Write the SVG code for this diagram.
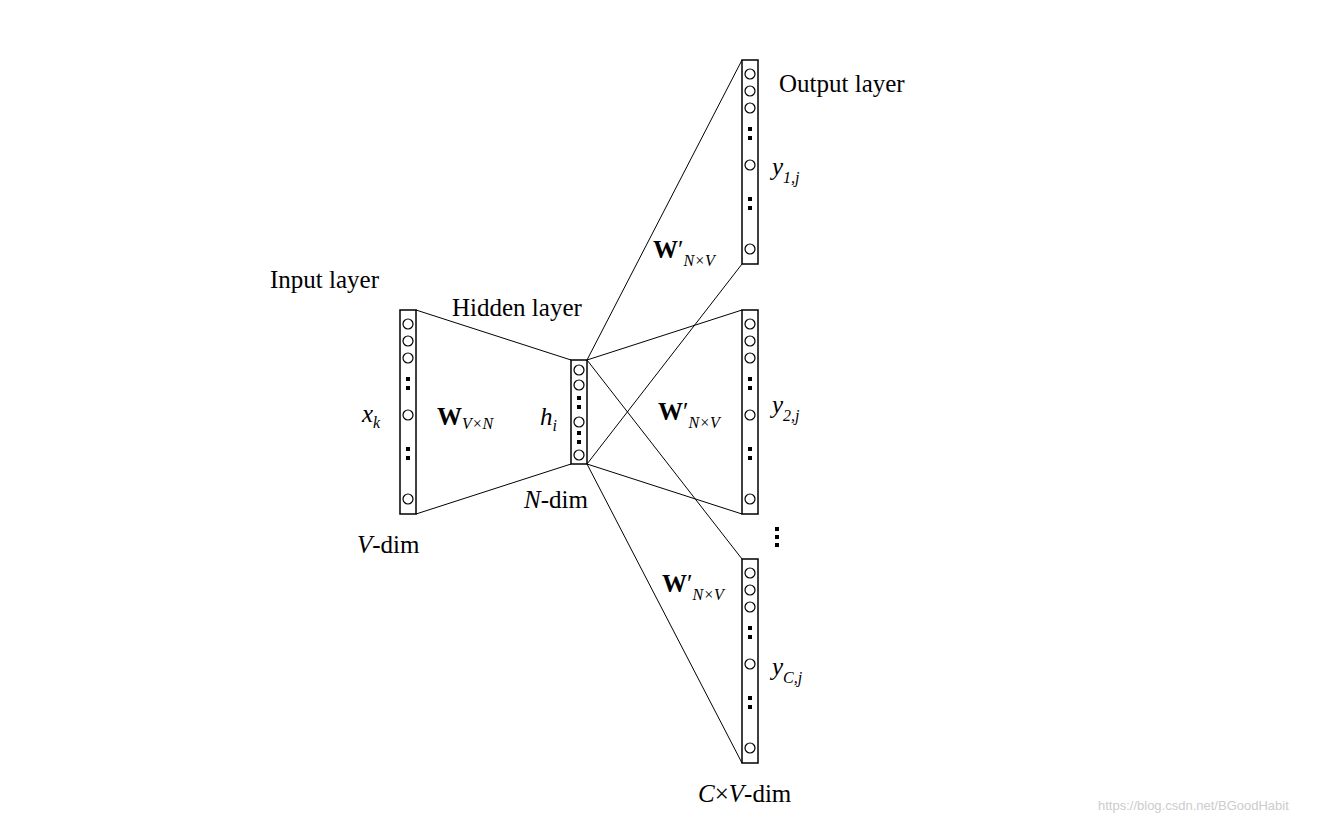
<svg xmlns="http://www.w3.org/2000/svg" width="1340" height="822" viewBox="0 0 1340 822">
<style>
.t{font-family:"Liberation Serif",serif;font-size:25px;fill:#000}
.i{font-style:italic}
.b{font-weight:bold}
.s{font-size:16px}
.col{fill:#fff;stroke:#000;stroke-width:1.5}
.c{fill:#fff;stroke:#000;stroke-width:1.2}
.d{fill:#000}
line{stroke:#000;stroke-width:1}
</style>
<defs>
<g id="big">
<rect class="col" x="0" y="0" width="16" height="204"/>
<circle class="c" cx="8" cy="14" r="5"/><circle class="c" cx="8" cy="31" r="5"/><circle class="c" cx="8" cy="48" r="5"/>
<rect class="d" x="6" y="67" width="4" height="4"/><rect class="d" x="6" y="76" width="4" height="4"/>
<circle class="c" cx="8" cy="105" r="5"/>
<rect class="d" x="6" y="137" width="4" height="4"/><rect class="d" x="6" y="146" width="4" height="4"/>
<circle class="c" cx="8" cy="189" r="5"/>
</g>
</defs>
<g id="connectors">
<line x1="416" y1="310" x2="571" y2="360"/>
<line x1="416" y1="514" x2="571" y2="464"/>
<line x1="587" y1="360" x2="742" y2="60"/>
<line x1="587" y1="360" x2="742" y2="310"/>
<line x1="587" y1="360" x2="742" y2="559"/>
<line x1="587" y1="464" x2="742" y2="264"/>
<line x1="587" y1="464" x2="742" y2="514"/>
<line x1="587" y1="464" x2="742" y2="763"/>
</g>
<g id="input"><use href="#big" x="400" y="310"/></g>
<g id="hidden">
<rect class="col" x="571" y="360" width="16" height="104"/>
<circle class="c" cx="579" cy="370" r="5"/><circle class="c" cx="579" cy="385" r="5"/>
<rect class="d" x="577" y="396" width="4" height="4"/><rect class="d" x="577" y="405" width="4" height="4"/>
<circle class="c" cx="579" cy="422" r="5"/>
<rect class="d" x="577" y="431" width="4" height="4"/><rect class="d" x="577" y="440" width="4" height="4"/>
<circle class="c" cx="579" cy="455" r="5"/>
</g>
<g id="out1"><use href="#big" x="742" y="60"/></g>
<g id="out2"><use href="#big" x="742" y="310"/></g>
<g id="outC"><use href="#big" x="742" y="559"/></g>
<g id="vdots"><rect class="d" x="775" y="527" width="4" height="4"/><rect class="d" x="775" y="535" width="4" height="4"/><rect class="d" x="775" y="543" width="4" height="4"/></g>
<g id="labels">
<text class="t" x="270" y="288">Input layer</text>
<text class="t" x="452" y="316">Hidden layer</text>
<text class="t" x="779" y="92">Output layer</text>
<text class="t i" x="362" y="422">x<tspan class="s" dy="6">k</tspan></text>
<text class="t b" x="437" y="425">W<tspan class="s i" font-weight="normal" dy="4">V×N</tspan></text>
<text class="t i" x="540" y="425">h<tspan class="s" dy="6">i</tspan></text>
<text class="t" x="524" y="508"><tspan class="i">N</tspan>-dim</text>
<text class="t" x="357" y="553"><tspan class="i">V</tspan>-dim</text>
<text class="t i" x="772" y="175">y<tspan class="s" dy="8">1,j</tspan></text>
<text class="t i" x="772" y="413">y<tspan class="s" dy="8">2,j</tspan></text>
<text class="t i" x="772" y="675">y<tspan class="s" dy="8">C,j</tspan></text>
<text class="t" x="653" y="258"><tspan class="b">W</tspan>′<tspan class="s i" dy="8">N×V</tspan></text>
<text class="t" x="658" y="420"><tspan class="b">W</tspan>′<tspan class="s i" dy="8">N×V</tspan></text>
<text class="t" x="662" y="592"><tspan class="b">W</tspan>′<tspan class="s i" dy="8">N×V</tspan></text>
<text class="t" x="698" y="802"><tspan class="i">C</tspan>×<tspan class="i">V</tspan>-dim</text>
<text x="1098" y="810" font-family="Liberation Sans,sans-serif" font-size="13" fill="#ccc">https://blog.csdn.net/BGoodHabit</text>
</g>
</svg>
